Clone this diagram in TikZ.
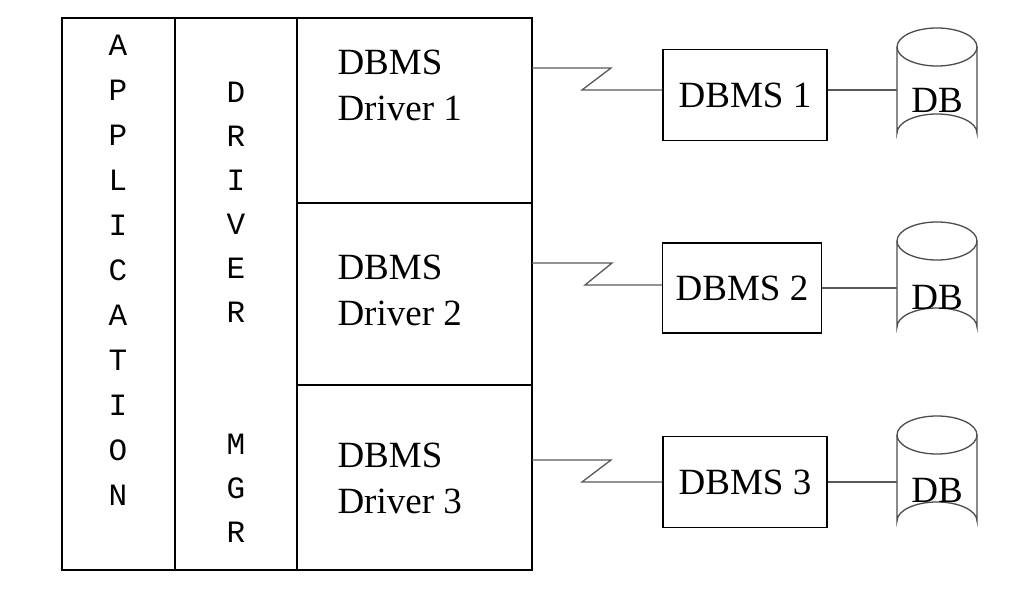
\documentclass[tikz,border=0pt]{standalone}
\usepackage{fontspec}
\setmainfont{Liberation Serif}
\newfontfamily\monof{Liberation Mono}
\begin{document}
\begin{tikzpicture}[x=1pt,y=-1pt,
  box/.style={draw,line width=1.3pt},
  conn/.style={draw=black!65,line width=1.3pt},
  dbt/.style={font=\fontsize{37}{46}\selectfont},
  lt/.style={font=\monof\fontsize{31}{31}\selectfont,inner sep=0pt},
  cylp/.style={draw=black!70,line width=1.3pt}]
\useasboundingbox (0,0) rectangle (1026,596);
\draw[box] (62,18) rectangle (532,570);
\draw[box] (175,18) -- (175,570) (297,18) -- (297,570) (297,203) -- (532,203) (297,385) -- (532,385);
\foreach \c [count=\i from 0] in {A,P,P,L,I,C,A,T,I,O,N}
  \node[lt] (a\i) at (118,{45+45*\i}) {\c};
\foreach \c/\i in {D/0,R/1,I/2,V/3,E/4,R/5,M/8,G/9,R/10}
  \node[lt] (d\i) at (236,{92+44*\i}) {\c};
\node[dbt,align=left,anchor=west] (drv1) at (334,85) {DBMS\\Driver 1};
\node[dbt,align=left,anchor=west] (drv2) at (334,290) {DBMS\\Driver 2};
\node[dbt,align=left,anchor=west] (drv3) at (334,478) {DBMS\\Driver 3};
\coordinate (s1) at (532,68); \coordinate (s2) at (532,263); \coordinate (s3) at (532,460);
\node[box,dbt,minimum width=164pt,minimum height=91pt] (m1) at (745,95) {DBMS 1};
\node[box,dbt,minimum width=159pt,minimum height=90pt] (m2) at (742,288) {DBMS 2};
\node[box,dbt,minimum width=164pt,minimum height=91pt] (m3) at (745,482) {DBMS 3};
\foreach \t/\n in {28/1,222/2,416/3}{
  \draw[cylp] (937,\t+19) ellipse [x radius=40, y radius=19];
  \draw[cylp] (897,\t+19) -- (897,\t+105) arc[start angle=180,end angle=360,x radius=40,y radius=19] -- (977,\t+19);
  \coordinate (c\n) at (897,\t+62);
}
\node[dbt] (t1) at (937,100) {DB};
\node[dbt] (t2) at (937,297) {DB};
\node[dbt] (t3) at (937,490) {DB};
\draw[conn] (s1) -- (611,68) -- (582,90) -- (m1.west|-0,90);
\draw[conn] (s2) -- (612,263) -- (585,285) -- (m2.west|-0,285);
\draw[conn] (s3) -- (611,460) -- (582,482) -- (m3.west|-0,482);
\draw[conn] (m1.east|-0,90) -- (c1|-0,90);
\draw[conn] (m2.east) -- (c2|-m2.east);
\draw[conn] (m3.east) -- (c3|-m3.east);
\end{tikzpicture}
\end{document}
